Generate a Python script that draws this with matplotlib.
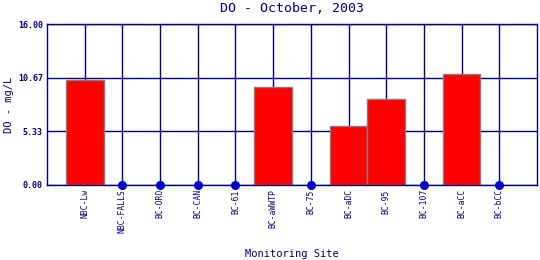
import matplotlib
matplotlib.use("Agg")
import matplotlib.pyplot as plt
import numpy as np

sites = ["NBC-Lw", "NBC-FALLS", "BC-ORO", "BC-CAN", "BC-61", "BC-aWWTP",
         "BC-75", "BC-aDC", "BC-95", "BC-107", "BC-aCC", "BC-bCC"]
do_values = [10.4, 0.0, 0.0, 0.0, 0.0, 9.7, 0.0, 5.9, 8.55, 0.0, 11.0, 0.0]
yticks = [0.0, 5.33, 10.67, 16.0]
ytick_labels = ["0.00", "5.33", "10.67", "16.00"]

navy = "#000080"
mono = "DejaVu Sans Mono"

fig = plt.figure(figsize=(5.4, 2.6), dpi=100)
ax = fig.add_axes([47/540, 1 - 185/260, 490/540, 161/260])

x = np.arange(1, len(sites) + 1)
vals = np.array(do_values)

ax.set_xlim(0, len(sites) + 1)
ax.set_ylim(0, 16)
ax.set_axisbelow(True)
for yt in yticks:
    ax.axhline(yt, color=navy, lw=1, zorder=1)
for xi in x:
    ax.axvline(xi, color=navy, lw=1, zorder=1)

mask = vals > 0
ax.bar(x[mask], vals[mask], width=1.0, color="#FF0000", edgecolor="#808080",
       linewidth=1, zorder=2)
ax.plot(x[~mask], vals[~mask], "o", color="#0000CC", markersize=5.5,
        zorder=3, clip_on=False)

ax.set_xticks(x)
ax.set_xticklabels(sites, rotation=90, fontsize=5.8, family=mono, color=navy)
ax.set_yticks(yticks)
ax.set_yticklabels(ytick_labels, fontsize=6, family=mono, color=navy,
                   fontweight="bold")
ax.tick_params(length=0, pad=3)
for s in ax.spines.values():
    s.set_color(navy)
    s.set_linewidth(1)

fig.text(292/540, 1 - 9/260, "DO - October, 2003", ha="center", va="center",
         fontsize=9.5, family=mono, color=navy)
fig.text(9/540, 1 - 105/260, "DO - mg/L", ha="center", va="center",
         rotation=90, fontsize=7.5, family=mono, color=navy)
fig.text(292/540, 1 - 254/260, "Monitoring Site", ha="center", va="center",
         fontsize=7.5, family=mono, color=navy)

fig.savefig("out.png", dpi=100)
